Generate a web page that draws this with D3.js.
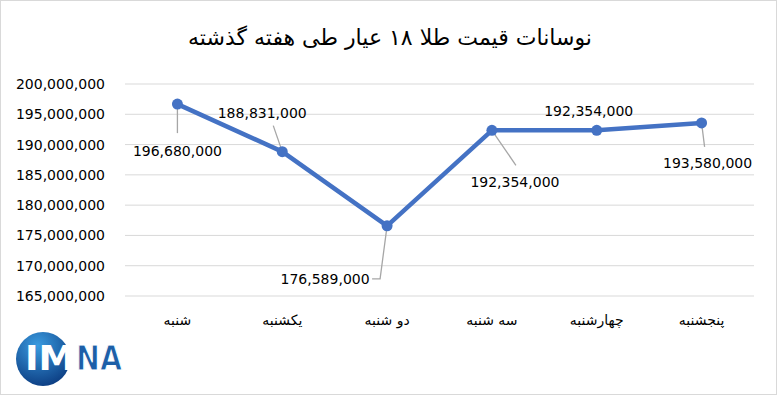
<!DOCTYPE html>
<html>
<head>
<meta charset="utf-8">
<script src="https://cdn.jsdelivr.net/npm/d3@7"></script>
<style>
  body { margin: 0; background: #fff; }
  svg { display: block; font-family: "DejaVu Sans", sans-serif; }
</style>
</head>
<body>
<svg id="chart" width="777" height="395"></svg>
<script>
"use strict";

var days = ["شنبه", "یکشنبه", "دو شنبه", "سه شنبه", "چهارشنبه", "پنجشنبه"];
var prices = [196680000, 188831000, 176589000, 192354000, 192354000, 193580000];
var yTicks = [165000000, 170000000, 175000000, 180000000, 185000000, 190000000, 195000000, 200000000];
var titleText = "نوسانات قیمت طلا ۱۸ عیار طی هفته گذشته";

// label placement per point: dx, dy of text centre from point, leader path
var labelPos = [
    {dx: 0, dy: 47, lead: [[0, 0], [0, 29]]},
    {dx: -20, dy: -39, lead: [[-9, -26], [0, 0]]},
    {dx: -62, dy: 53, lead: [[0, 0], [-7, 53], [-15, 53]]},
    {dx: 23, dy: 52, lead: [[0, 0], [24, 35]]},
    {dx: -8, dy: -19, lead: null},
    {dx: 6, dy: 40, lead: [[0, 0], [3, 24]]}
];

var svg = d3.select("#chart");
var width = 777, height = 395;
var margin = {left: 125, right: 23, top: 84, bottom: 99};

svg.append("rect")
    .attr("x", 0.5).attr("y", 0.5)
    .attr("width", width - 1).attr("height", height - 1)
    .attr("fill", "#fff").attr("stroke", "#d9d9d9");

var x = d3.scaleBand()
    .domain(days)
    .range([margin.left, width - margin.right]);

var y = d3.scaleLinear()
    .domain([165000000, 200000000])
    .range([height - margin.bottom, margin.top]);

var fmt = d3.format(",");

svg.append("text")
    .attr("x", 390).attr("y", 45)
    .attr("text-anchor", "middle")
    .attr("direction", "rtl")
    .attr("font-size", 22)
    .attr("fill", "#000")
    .text(titleText);

// gridlines
svg.append("g")
    .selectAll("line")
    .data(yTicks)
    .join("line")
    .attr("x1", margin.left).attr("x2", width - margin.right)
    .attr("y1", function(d) { return y(d); })
    .attr("y2", function(d) { return y(d); })
    .attr("stroke", "#d9d9d9").attr("stroke-width", 1);

var yAxis = svg.append("g")
    .attr("transform", "translate(" + (margin.left - 17) + ",0)")
    .call(d3.axisLeft(y).tickValues(yTicks).tickFormat(fmt).tickSize(0));
yAxis.select(".domain").remove();
yAxis.selectAll("text")
    .attr("font-family", "DejaVu Sans, sans-serif")
    .attr("font-size", 14)
    .attr("fill", "#000");

var xAxis = svg.append("g")
    .attr("transform", "translate(0," + (height - margin.bottom) + ")")
    .call(d3.axisBottom(x).tickSize(0).tickPadding(19));
xAxis.select(".domain").remove();
xAxis.selectAll("text")
    .attr("font-family", "DejaVu Sans, sans-serif")
    .attr("font-size", 14)
    .attr("fill", "#000");

var pts = days.map(function(d, i) {
    return {day: d, value: prices[i], px: x(d) + x.bandwidth() / 2, py: y(prices[i])};
});

var line = d3.line()
    .x(function(d) { return d.px; })
    .y(function(d) { return d.py; });

// leader lines
svg.append("g")
    .selectAll("path")
    .data(pts.filter(function(d, i) { return labelPos[i].lead; }))
    .join("path")
    .attr("d", function(d) {
        var i = pts.indexOf(d);
        return d3.line()(labelPos[i].lead.map(function(p) { return [d.px + p[0], d.py + p[1]]; }));
    })
    .attr("fill", "none")
    .attr("stroke", "#a6a6a6").attr("stroke-width", 1.3);

svg.append("path")
    .datum(pts)
    .attr("d", line)
    .attr("fill", "none")
    .attr("stroke", "#4472c4")
    .attr("stroke-width", 4.5)
    .attr("stroke-linejoin", "round");

svg.append("g")
    .selectAll("circle")
    .data(pts)
    .join("circle")
    .attr("cx", function(d) { return d.px; })
    .attr("cy", function(d) { return d.py; })
    .attr("r", 5.5)
    .attr("fill", "#4472c4");

svg.append("g")
    .selectAll("text")
    .data(pts)
    .join("text")
    .attr("x", function(d, i) { return d.px + labelPos[i].dx; })
    .attr("y", function(d, i) { return d.py + labelPos[i].dy; })
    .attr("text-anchor", "middle")
    .attr("dominant-baseline", "central")
    .attr("font-size", 14)
    .attr("fill", "#000")
    .text(function(d) { return fmt(d.value); });

// IMNA logo
var grad = svg.append("defs").append("radialGradient")
    .attr("id", "logoGrad")
    .attr("cx", "40%").attr("cy", "25%").attr("r", "80%");
grad.append("stop").attr("offset", "0%").attr("stop-color", "#3a9be0");
grad.append("stop").attr("offset", "100%").attr("stop-color", "#0b3b80");

var logo = svg.append("g");
logo.append("circle")
    .attr("cx", 43).attr("cy", 359).attr("r", 27)
    .attr("fill", "url(#logoGrad)");
logo.append("text")
    .attr("x", 76).attr("y", 370)
    .attr("font-family", "DejaVu Sans, sans-serif")
    .attr("font-weight", "bold")
    .attr("font-size", 34)
    .attr("textLength", 46)
    .attr("lengthAdjust", "spacingAndGlyphs")
    .attr("fill", "#1d5fa8")
    .attr("stroke", "#fff")
    .attr("stroke-width", 1.2)
    .text("NA");
logo.append("text")
    .attr("x", 25).attr("y", 370)
    .attr("font-family", "DejaVu Sans, sans-serif")
    .attr("font-weight", "bold")
    .attr("font-size", 34)
    .attr("textLength", 50)
    .attr("lengthAdjust", "spacingAndGlyphs")
    .attr("fill", "#fff")
    .text("IM");
</script>
</body>
</html>
